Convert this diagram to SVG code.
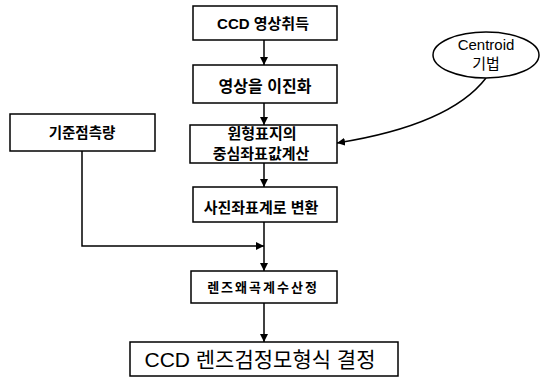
<svg xmlns="http://www.w3.org/2000/svg" width="544" height="378" viewBox="0 0 544 378">
<style>
.box{fill:#fff;stroke:#000;stroke-width:1.5}
.t{font-family:"Liberation Sans","Noto Sans CJK KR",sans-serif;fill:#000;text-anchor:middle;font-weight:bold}
.n{font-weight:normal}
.c{fill:none;stroke:#000;stroke-width:1.5}
</style>
<defs>
<marker id="ah" viewBox="0 0 10 10" refX="10" refY="5" markerWidth="8" markerHeight="8" markerUnits="userSpaceOnUse" orient="auto">
<path d="M0,0 L10,5 L0,10 z" fill="#000"/>
</marker>
</defs>
<rect width="544" height="378" fill="#fff"/>
<g id="connectors">
<line class="c" x1="264" y1="40" x2="264" y2="65" marker-end="url(#ah)"/>
<line class="c" x1="264" y1="103" x2="264" y2="125" marker-end="url(#ah)"/>
<line class="c" x1="264" y1="163" x2="264" y2="187" marker-end="url(#ah)"/>
<line class="c" x1="264" y1="222" x2="264" y2="271" marker-end="url(#ah)"/>
<polyline class="c" points="82,151 82,246 264,246" marker-end="url(#ah)"/>
<line class="c" x1="264" y1="303" x2="264" y2="342" marker-end="url(#ah)"/>
<path class="c" d="M486,78 Q450,125 337,143" marker-end="url(#ah)"/>
</g>
<g id="n1"><rect class="box" x="193" y="6" width="144" height="34"/><text class="t" x="263" y="29" font-size="15">CCD 영상취득</text></g>
<g id="n2"><rect class="box" x="193" y="65" width="144" height="38"/><text class="t" x="265" y="92" font-size="16">영상을 이진화</text></g>
<g id="n3"><rect class="box" x="190" y="125" width="147" height="38"/><text class="t" x="262" y="139" font-size="15">원형표지의</text><text class="t" x="261" y="159" font-size="15">중심좌표값계산</text></g>
<g id="n4"><rect class="box" x="193" y="187" width="144" height="35"/><text class="t" x="261" y="213" font-size="15">사진좌표계로 변환</text></g>
<g id="n5"><rect class="box" x="191" y="271" width="146" height="32"/><text class="t" x="263" y="292" font-size="13" letter-spacing="2">렌즈왜곡계수산정</text></g>
<g id="n6"><rect class="box" x="130" y="342" width="268" height="34"/><text class="t n" x="260" y="367" font-size="21">CCD 렌즈검정모형식 결정</text></g>
<g id="n7"><rect class="box" x="10" y="114" width="145" height="37"/><text class="t" x="82" y="138" font-size="14.5">기준점측량</text></g>
<g id="n8"><ellipse class="box" cx="486" cy="55" rx="53" ry="23"/><text class="t n" x="486" y="50" font-size="15">Centroid</text><text class="t n" x="486" y="69" font-size="15">기법</text></g>
</svg>
